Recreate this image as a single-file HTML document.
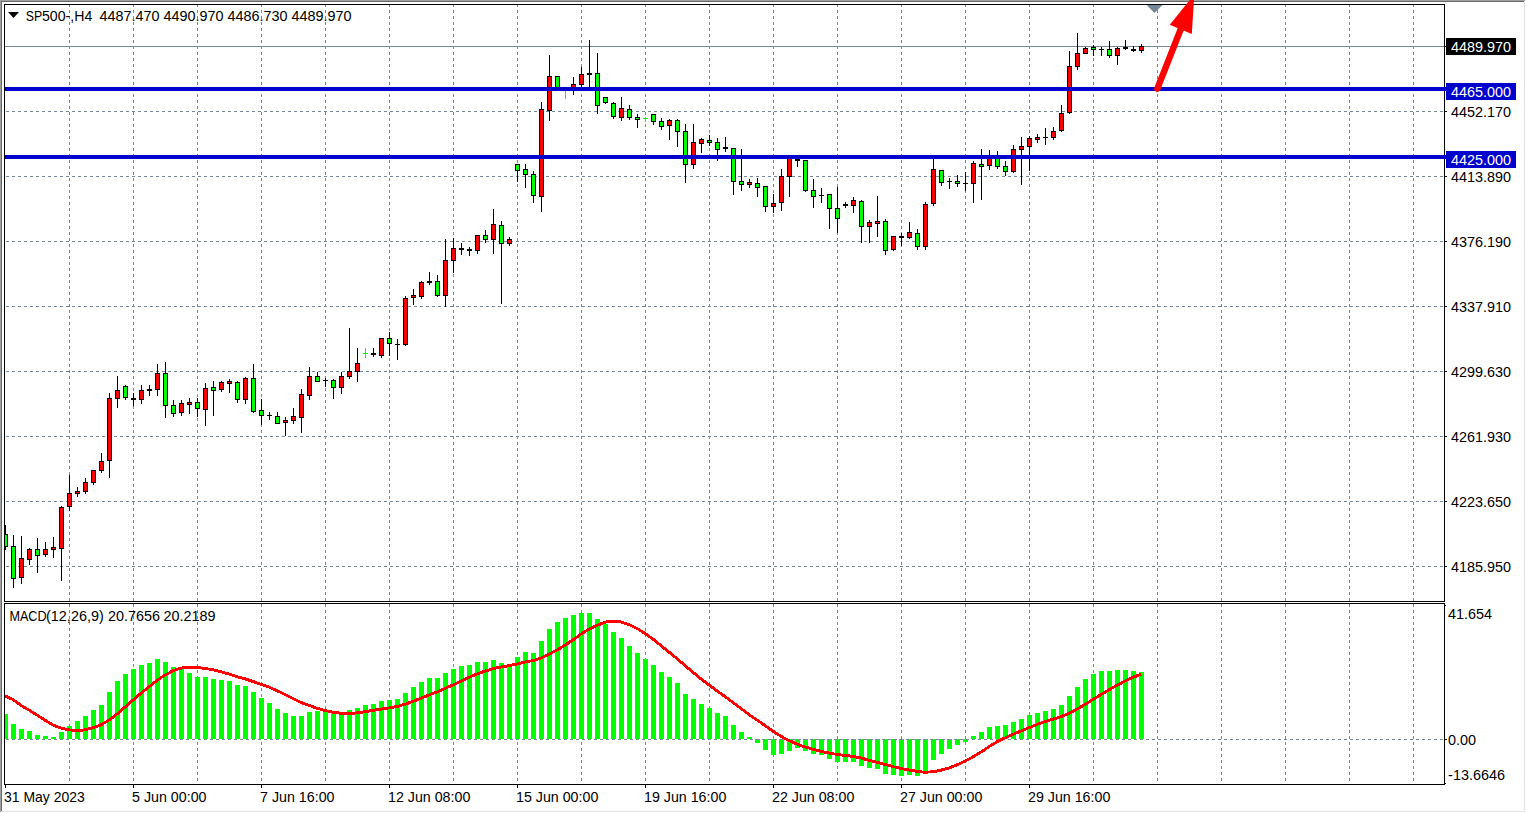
<!DOCTYPE html>
<html lang="en"><head><meta charset="utf-8"><title>SP500-,H4</title>
<style>html,body{margin:0;padding:0;background:#fff;overflow:hidden}svg{display:block}text{font-family:"Liberation Sans",Arial,sans-serif;font-size:14.4px;fill:#000}.w{fill:#fff}</style></head><body>
<svg width="1526" height="813" viewBox="0 0 1526 813">
<rect width="1526" height="813" fill="#fff"/>
<g shape-rendering="crispEdges">
<rect x="0" y="0" width="1525" height="1" fill="#a0a0a0"/>
<rect x="0" y="0" width="1" height="812" fill="#a0a0a0"/>
<rect x="1" y="1" width="1523" height="1" fill="#696969"/>
<rect x="1" y="1" width="1" height="810" fill="#696969"/>
<rect x="1524" y="1" width="1" height="811" fill="#e3e3e3"/>
<rect x="1" y="811" width="1524" height="1" fill="#e3e3e3"/>
<line x1="69.5" y1="4" x2="69.5" y2="601" stroke="#778899" stroke-width="1" stroke-dasharray="3 3"/>
<line x1="69.5" y1="604" x2="69.5" y2="784" stroke="#778899" stroke-width="1" stroke-dasharray="3 3"/>
<line x1="133.5" y1="4" x2="133.5" y2="601" stroke="#778899" stroke-width="1" stroke-dasharray="3 3"/>
<line x1="133.5" y1="604" x2="133.5" y2="784" stroke="#778899" stroke-width="1" stroke-dasharray="3 3"/>
<line x1="197.5" y1="4" x2="197.5" y2="601" stroke="#778899" stroke-width="1" stroke-dasharray="3 3"/>
<line x1="197.5" y1="604" x2="197.5" y2="784" stroke="#778899" stroke-width="1" stroke-dasharray="3 3"/>
<line x1="261.5" y1="4" x2="261.5" y2="601" stroke="#778899" stroke-width="1" stroke-dasharray="3 3"/>
<line x1="261.5" y1="604" x2="261.5" y2="784" stroke="#778899" stroke-width="1" stroke-dasharray="3 3"/>
<line x1="325.5" y1="4" x2="325.5" y2="601" stroke="#778899" stroke-width="1" stroke-dasharray="3 3"/>
<line x1="325.5" y1="604" x2="325.5" y2="784" stroke="#778899" stroke-width="1" stroke-dasharray="3 3"/>
<line x1="389.5" y1="4" x2="389.5" y2="601" stroke="#778899" stroke-width="1" stroke-dasharray="3 3"/>
<line x1="389.5" y1="604" x2="389.5" y2="784" stroke="#778899" stroke-width="1" stroke-dasharray="3 3"/>
<line x1="453.5" y1="4" x2="453.5" y2="601" stroke="#778899" stroke-width="1" stroke-dasharray="3 3"/>
<line x1="453.5" y1="604" x2="453.5" y2="784" stroke="#778899" stroke-width="1" stroke-dasharray="3 3"/>
<line x1="517.5" y1="4" x2="517.5" y2="601" stroke="#778899" stroke-width="1" stroke-dasharray="3 3"/>
<line x1="517.5" y1="604" x2="517.5" y2="784" stroke="#778899" stroke-width="1" stroke-dasharray="3 3"/>
<line x1="581.5" y1="4" x2="581.5" y2="601" stroke="#778899" stroke-width="1" stroke-dasharray="3 3"/>
<line x1="581.5" y1="604" x2="581.5" y2="784" stroke="#778899" stroke-width="1" stroke-dasharray="3 3"/>
<line x1="645.5" y1="4" x2="645.5" y2="601" stroke="#778899" stroke-width="1" stroke-dasharray="3 3"/>
<line x1="645.5" y1="604" x2="645.5" y2="784" stroke="#778899" stroke-width="1" stroke-dasharray="3 3"/>
<line x1="709.5" y1="4" x2="709.5" y2="601" stroke="#778899" stroke-width="1" stroke-dasharray="3 3"/>
<line x1="709.5" y1="604" x2="709.5" y2="784" stroke="#778899" stroke-width="1" stroke-dasharray="3 3"/>
<line x1="773.5" y1="4" x2="773.5" y2="601" stroke="#778899" stroke-width="1" stroke-dasharray="3 3"/>
<line x1="773.5" y1="604" x2="773.5" y2="784" stroke="#778899" stroke-width="1" stroke-dasharray="3 3"/>
<line x1="837.5" y1="4" x2="837.5" y2="601" stroke="#778899" stroke-width="1" stroke-dasharray="3 3"/>
<line x1="837.5" y1="604" x2="837.5" y2="784" stroke="#778899" stroke-width="1" stroke-dasharray="3 3"/>
<line x1="901.5" y1="4" x2="901.5" y2="601" stroke="#778899" stroke-width="1" stroke-dasharray="3 3"/>
<line x1="901.5" y1="604" x2="901.5" y2="784" stroke="#778899" stroke-width="1" stroke-dasharray="3 3"/>
<line x1="965.5" y1="4" x2="965.5" y2="601" stroke="#778899" stroke-width="1" stroke-dasharray="3 3"/>
<line x1="965.5" y1="604" x2="965.5" y2="784" stroke="#778899" stroke-width="1" stroke-dasharray="3 3"/>
<line x1="1029.5" y1="4" x2="1029.5" y2="601" stroke="#778899" stroke-width="1" stroke-dasharray="3 3"/>
<line x1="1029.5" y1="604" x2="1029.5" y2="784" stroke="#778899" stroke-width="1" stroke-dasharray="3 3"/>
<line x1="1093.5" y1="4" x2="1093.5" y2="601" stroke="#778899" stroke-width="1" stroke-dasharray="3 3"/>
<line x1="1093.5" y1="604" x2="1093.5" y2="784" stroke="#778899" stroke-width="1" stroke-dasharray="3 3"/>
<line x1="1157.5" y1="4" x2="1157.5" y2="601" stroke="#778899" stroke-width="1" stroke-dasharray="3 3"/>
<line x1="1157.5" y1="604" x2="1157.5" y2="784" stroke="#778899" stroke-width="1" stroke-dasharray="3 3"/>
<line x1="1221.5" y1="4" x2="1221.5" y2="601" stroke="#778899" stroke-width="1" stroke-dasharray="3 3"/>
<line x1="1221.5" y1="604" x2="1221.5" y2="784" stroke="#778899" stroke-width="1" stroke-dasharray="3 3"/>
<line x1="1285.5" y1="4" x2="1285.5" y2="601" stroke="#778899" stroke-width="1" stroke-dasharray="3 3"/>
<line x1="1285.5" y1="604" x2="1285.5" y2="784" stroke="#778899" stroke-width="1" stroke-dasharray="3 3"/>
<line x1="1349.5" y1="4" x2="1349.5" y2="601" stroke="#778899" stroke-width="1" stroke-dasharray="3 3"/>
<line x1="1349.5" y1="604" x2="1349.5" y2="784" stroke="#778899" stroke-width="1" stroke-dasharray="3 3"/>
<line x1="1413.5" y1="4" x2="1413.5" y2="601" stroke="#778899" stroke-width="1" stroke-dasharray="3 3"/>
<line x1="1413.5" y1="604" x2="1413.5" y2="784" stroke="#778899" stroke-width="1" stroke-dasharray="3 3"/>
<line x1="6" y1="111.5" x2="1444" y2="111.5" stroke="#778899" stroke-width="1" stroke-dasharray="3 3"/>
<line x1="6" y1="176.5" x2="1444" y2="176.5" stroke="#778899" stroke-width="1" stroke-dasharray="3 3"/>
<line x1="6" y1="241.5" x2="1444" y2="241.5" stroke="#778899" stroke-width="1" stroke-dasharray="3 3"/>
<line x1="6" y1="306.5" x2="1444" y2="306.5" stroke="#778899" stroke-width="1" stroke-dasharray="3 3"/>
<line x1="6" y1="371.5" x2="1444" y2="371.5" stroke="#778899" stroke-width="1" stroke-dasharray="3 3"/>
<line x1="6" y1="436.5" x2="1444" y2="436.5" stroke="#778899" stroke-width="1" stroke-dasharray="3 3"/>
<line x1="6" y1="501.5" x2="1444" y2="501.5" stroke="#778899" stroke-width="1" stroke-dasharray="3 3"/>
<line x1="6" y1="566.5" x2="1444" y2="566.5" stroke="#778899" stroke-width="1" stroke-dasharray="3 3"/>
<line x1="6" y1="739.5" x2="1444" y2="739.5" stroke="#778899" stroke-width="1" stroke-dasharray="3 3"/>
<rect x="5" y="46" width="1439" height="1" fill="#778899"/>
<rect x="5" y="525" width="1" height="25" fill="#000"/>
<rect x="4" y="534" width="4" height="13" fill="#000"/>
<rect x="4" y="535" width="3" height="11" fill="#00ff00"/>
<rect x="13" y="535" width="1" height="53" fill="#000"/>
<rect x="11" y="546" width="5" height="33" fill="#000"/>
<rect x="12" y="547" width="3" height="31" fill="#00ff00"/>
<rect x="21" y="536" width="1" height="48" fill="#000"/>
<rect x="19" y="558" width="5" height="20" fill="#000"/>
<rect x="20" y="559" width="3" height="18" fill="#ff0000"/>
<rect x="29" y="548" width="1" height="17" fill="#000"/>
<rect x="27" y="549" width="5" height="11" fill="#000"/>
<rect x="28" y="550" width="3" height="9" fill="#ff0000"/>
<rect x="37" y="538" width="1" height="35" fill="#000"/>
<rect x="35" y="549" width="5" height="7" fill="#000"/>
<rect x="36" y="550" width="3" height="5" fill="#00ff00"/>
<rect x="45" y="542" width="1" height="15" fill="#000"/>
<rect x="43" y="549" width="5" height="6" fill="#000"/>
<rect x="44" y="550" width="3" height="4" fill="#ff0000"/>
<rect x="53" y="537" width="1" height="21" fill="#000"/>
<rect x="51" y="547" width="5" height="3" fill="#000"/>
<rect x="52" y="548" width="3" height="1" fill="#ff0000"/>
<rect x="61" y="506" width="1" height="75" fill="#000"/>
<rect x="59" y="507" width="5" height="42" fill="#000"/>
<rect x="60" y="508" width="3" height="40" fill="#ff0000"/>
<rect x="69" y="475" width="1" height="36" fill="#000"/>
<rect x="67" y="493" width="5" height="14" fill="#000"/>
<rect x="68" y="494" width="3" height="12" fill="#ff0000"/>
<rect x="77" y="487" width="1" height="10" fill="#000"/>
<rect x="75" y="491" width="5" height="3" fill="#000"/>
<rect x="76" y="492" width="3" height="1" fill="#ff0000"/>
<rect x="85" y="478" width="1" height="16" fill="#000"/>
<rect x="83" y="482" width="5" height="10" fill="#000"/>
<rect x="84" y="483" width="3" height="8" fill="#ff0000"/>
<rect x="93" y="470" width="1" height="15" fill="#000"/>
<rect x="91" y="470" width="5" height="13" fill="#000"/>
<rect x="92" y="471" width="3" height="11" fill="#ff0000"/>
<rect x="101" y="453" width="1" height="20" fill="#000"/>
<rect x="99" y="461" width="5" height="10" fill="#000"/>
<rect x="100" y="462" width="3" height="8" fill="#ff0000"/>
<rect x="109" y="393" width="1" height="85" fill="#000"/>
<rect x="107" y="398" width="5" height="63" fill="#000"/>
<rect x="108" y="399" width="3" height="61" fill="#ff0000"/>
<rect x="117" y="376" width="1" height="32" fill="#000"/>
<rect x="115" y="390" width="5" height="9" fill="#000"/>
<rect x="116" y="391" width="3" height="7" fill="#ff0000"/>
<rect x="125" y="385" width="1" height="15" fill="#000"/>
<rect x="123" y="386" width="5" height="12" fill="#000"/>
<rect x="124" y="387" width="3" height="10" fill="#00ff00"/>
<rect x="133" y="393" width="1" height="13" fill="#000"/>
<rect x="131" y="398" width="5" height="2" fill="#000"/>
<rect x="141" y="385" width="1" height="19" fill="#000"/>
<rect x="139" y="390" width="5" height="10" fill="#000"/>
<rect x="140" y="391" width="3" height="8" fill="#ff0000"/>
<rect x="149" y="385" width="1" height="11" fill="#000"/>
<rect x="147" y="389" width="5" height="2" fill="#000"/>
<rect x="157" y="364" width="1" height="32" fill="#000"/>
<rect x="155" y="373" width="5" height="17" fill="#000"/>
<rect x="156" y="374" width="3" height="15" fill="#ff0000"/>
<rect x="165" y="362" width="1" height="56" fill="#000"/>
<rect x="163" y="373" width="5" height="33" fill="#000"/>
<rect x="164" y="374" width="3" height="31" fill="#00ff00"/>
<rect x="173" y="400" width="1" height="17" fill="#000"/>
<rect x="171" y="405" width="5" height="9" fill="#000"/>
<rect x="172" y="406" width="3" height="7" fill="#00ff00"/>
<rect x="181" y="400" width="1" height="16" fill="#000"/>
<rect x="179" y="403" width="5" height="10" fill="#000"/>
<rect x="180" y="404" width="3" height="8" fill="#ff0000"/>
<rect x="189" y="398" width="1" height="16" fill="#000"/>
<rect x="187" y="402" width="5" height="3" fill="#000"/>
<rect x="188" y="403" width="3" height="1" fill="#ff0000"/>
<rect x="197" y="398" width="1" height="19" fill="#000"/>
<rect x="195" y="402" width="5" height="7" fill="#000"/>
<rect x="196" y="403" width="3" height="5" fill="#00ff00"/>
<rect x="205" y="383" width="1" height="43" fill="#000"/>
<rect x="203" y="388" width="5" height="22" fill="#000"/>
<rect x="204" y="389" width="3" height="20" fill="#ff0000"/>
<rect x="213" y="381" width="1" height="35" fill="#000"/>
<rect x="211" y="387" width="5" height="4" fill="#000"/>
<rect x="212" y="388" width="3" height="2" fill="#00ff00"/>
<rect x="221" y="381" width="1" height="11" fill="#000"/>
<rect x="219" y="382" width="5" height="8" fill="#000"/>
<rect x="220" y="383" width="3" height="6" fill="#ff0000"/>
<rect x="229" y="379" width="1" height="14" fill="#000"/>
<rect x="227" y="381" width="5" height="3" fill="#000"/>
<rect x="228" y="382" width="3" height="1" fill="#ff0000"/>
<rect x="237" y="381" width="1" height="22" fill="#000"/>
<rect x="235" y="382" width="5" height="18" fill="#000"/>
<rect x="236" y="383" width="3" height="16" fill="#00ff00"/>
<rect x="245" y="377" width="1" height="27" fill="#000"/>
<rect x="243" y="378" width="5" height="22" fill="#000"/>
<rect x="244" y="379" width="3" height="20" fill="#ff0000"/>
<rect x="253" y="364" width="1" height="49" fill="#000"/>
<rect x="251" y="378" width="5" height="34" fill="#000"/>
<rect x="252" y="379" width="3" height="32" fill="#00ff00"/>
<rect x="261" y="399" width="1" height="26" fill="#000"/>
<rect x="259" y="410" width="5" height="6" fill="#000"/>
<rect x="260" y="411" width="3" height="4" fill="#00ff00"/>
<rect x="269" y="412" width="1" height="8" fill="#000"/>
<rect x="267" y="415" width="5" height="1" fill="#000"/>
<rect x="277" y="412" width="1" height="12" fill="#000"/>
<rect x="275" y="416" width="5" height="8" fill="#000"/>
<rect x="276" y="417" width="3" height="6" fill="#00ff00"/>
<rect x="285" y="417" width="1" height="19" fill="#000"/>
<rect x="283" y="420" width="5" height="3" fill="#000"/>
<rect x="284" y="421" width="3" height="1" fill="#ff0000"/>
<rect x="293" y="408" width="1" height="16" fill="#000"/>
<rect x="291" y="416" width="5" height="5" fill="#000"/>
<rect x="292" y="417" width="3" height="3" fill="#ff0000"/>
<rect x="301" y="389" width="1" height="44" fill="#000"/>
<rect x="299" y="394" width="5" height="24" fill="#000"/>
<rect x="300" y="395" width="3" height="22" fill="#ff0000"/>
<rect x="309" y="367" width="1" height="33" fill="#000"/>
<rect x="307" y="376" width="5" height="20" fill="#000"/>
<rect x="308" y="377" width="3" height="18" fill="#ff0000"/>
<rect x="317" y="372" width="1" height="10" fill="#000"/>
<rect x="315" y="376" width="5" height="6" fill="#000"/>
<rect x="316" y="377" width="3" height="4" fill="#00ff00"/>
<rect x="325" y="378" width="1" height="9" fill="#000"/>
<rect x="323" y="380" width="5" height="1" fill="#000"/>
<rect x="333" y="379" width="1" height="20" fill="#000"/>
<rect x="331" y="380" width="5" height="8" fill="#000"/>
<rect x="332" y="381" width="3" height="6" fill="#00ff00"/>
<rect x="341" y="372" width="1" height="22" fill="#000"/>
<rect x="339" y="376" width="5" height="12" fill="#000"/>
<rect x="340" y="377" width="3" height="10" fill="#ff0000"/>
<rect x="349" y="328" width="1" height="51" fill="#000"/>
<rect x="347" y="371" width="5" height="6" fill="#000"/>
<rect x="348" y="372" width="3" height="4" fill="#ff0000"/>
<rect x="357" y="348" width="1" height="34" fill="#000"/>
<rect x="355" y="363" width="5" height="9" fill="#000"/>
<rect x="356" y="364" width="3" height="7" fill="#ff0000"/>
<rect x="365" y="348" width="1" height="10" fill="#00ff00"/>
<rect x="363" y="353" width="5" height="1" fill="#00ff00"/>
<rect x="373" y="348" width="1" height="9" fill="#000"/>
<rect x="371" y="353" width="5" height="2" fill="#000"/>
<rect x="381" y="338" width="1" height="20" fill="#000"/>
<rect x="379" y="338" width="5" height="18" fill="#000"/>
<rect x="380" y="339" width="3" height="16" fill="#ff0000"/>
<rect x="389" y="332" width="1" height="24" fill="#000"/>
<rect x="387" y="338" width="5" height="6" fill="#000"/>
<rect x="388" y="339" width="3" height="4" fill="#00ff00"/>
<rect x="397" y="339" width="1" height="21" fill="#000"/>
<rect x="395" y="344" width="5" height="1" fill="#000"/>
<rect x="405" y="296" width="1" height="50" fill="#000"/>
<rect x="403" y="298" width="5" height="47" fill="#000"/>
<rect x="404" y="299" width="3" height="45" fill="#ff0000"/>
<rect x="413" y="289" width="1" height="16" fill="#000"/>
<rect x="411" y="295" width="5" height="3" fill="#000"/>
<rect x="412" y="296" width="3" height="1" fill="#ff0000"/>
<rect x="421" y="281" width="1" height="18" fill="#000"/>
<rect x="419" y="282" width="5" height="15" fill="#000"/>
<rect x="420" y="283" width="3" height="13" fill="#ff0000"/>
<rect x="429" y="272" width="1" height="13" fill="#000"/>
<rect x="427" y="281" width="5" height="2" fill="#000"/>
<rect x="437" y="275" width="1" height="22" fill="#000"/>
<rect x="435" y="281" width="5" height="15" fill="#000"/>
<rect x="436" y="282" width="3" height="13" fill="#00ff00"/>
<rect x="445" y="239" width="1" height="68" fill="#000"/>
<rect x="443" y="260" width="5" height="36" fill="#000"/>
<rect x="444" y="261" width="3" height="34" fill="#ff0000"/>
<rect x="453" y="238" width="1" height="35" fill="#000"/>
<rect x="451" y="248" width="5" height="13" fill="#000"/>
<rect x="452" y="249" width="3" height="11" fill="#ff0000"/>
<rect x="461" y="243" width="1" height="12" fill="#000"/>
<rect x="459" y="248" width="5" height="2" fill="#000"/>
<rect x="469" y="247" width="1" height="9" fill="#000"/>
<rect x="467" y="249" width="5" height="2" fill="#000"/>
<rect x="477" y="235" width="1" height="19" fill="#000"/>
<rect x="475" y="235" width="5" height="16" fill="#000"/>
<rect x="476" y="236" width="3" height="14" fill="#ff0000"/>
<rect x="485" y="230" width="1" height="13" fill="#000"/>
<rect x="483" y="235" width="5" height="5" fill="#000"/>
<rect x="484" y="236" width="3" height="3" fill="#00ff00"/>
<rect x="493" y="209" width="1" height="45" fill="#000"/>
<rect x="491" y="224" width="5" height="16" fill="#000"/>
<rect x="492" y="225" width="3" height="14" fill="#ff0000"/>
<rect x="501" y="221" width="1" height="83" fill="#000"/>
<rect x="499" y="225" width="5" height="19" fill="#000"/>
<rect x="500" y="226" width="3" height="17" fill="#00ff00"/>
<rect x="509" y="237" width="1" height="9" fill="#000"/>
<rect x="507" y="239" width="5" height="5" fill="#000"/>
<rect x="508" y="240" width="3" height="3" fill="#ff0000"/>
<rect x="517" y="164" width="1" height="18" fill="#000"/>
<rect x="515" y="164" width="5" height="7" fill="#000"/>
<rect x="516" y="165" width="3" height="5" fill="#00ff00"/>
<rect x="525" y="164" width="1" height="24" fill="#000"/>
<rect x="523" y="169" width="5" height="6" fill="#000"/>
<rect x="524" y="170" width="3" height="4" fill="#00ff00"/>
<rect x="533" y="171" width="1" height="32" fill="#000"/>
<rect x="531" y="174" width="5" height="22" fill="#000"/>
<rect x="532" y="175" width="3" height="20" fill="#00ff00"/>
<rect x="541" y="102" width="1" height="110" fill="#000"/>
<rect x="539" y="109" width="5" height="88" fill="#000"/>
<rect x="540" y="110" width="3" height="86" fill="#ff0000"/>
<rect x="549" y="55" width="1" height="66" fill="#000"/>
<rect x="547" y="76" width="5" height="35" fill="#000"/>
<rect x="548" y="77" width="3" height="33" fill="#ff0000"/>
<rect x="557" y="76" width="1" height="13" fill="#000"/>
<rect x="555" y="76" width="5" height="13" fill="#000"/>
<rect x="556" y="77" width="3" height="11" fill="#00ff00"/>
<rect x="565" y="87" width="1" height="12" fill="#00ff00"/>
<rect x="563" y="88" width="5" height="1" fill="#00ff00"/>
<rect x="573" y="77" width="1" height="18" fill="#000"/>
<rect x="571" y="84" width="5" height="5" fill="#000"/>
<rect x="572" y="85" width="3" height="3" fill="#ff0000"/>
<rect x="581" y="67" width="1" height="22" fill="#000"/>
<rect x="579" y="74" width="5" height="11" fill="#000"/>
<rect x="580" y="75" width="3" height="9" fill="#ff0000"/>
<rect x="589" y="40" width="1" height="49" fill="#000"/>
<rect x="587" y="73" width="5" height="2" fill="#000"/>
<rect x="597" y="53" width="1" height="61" fill="#000"/>
<rect x="595" y="73" width="5" height="33" fill="#000"/>
<rect x="596" y="74" width="3" height="31" fill="#00ff00"/>
<rect x="605" y="97" width="1" height="7" fill="#000"/>
<rect x="603" y="97" width="5" height="6" fill="#000"/>
<rect x="604" y="98" width="3" height="4" fill="#00ff00"/>
<rect x="613" y="102" width="1" height="17" fill="#000"/>
<rect x="611" y="103" width="5" height="14" fill="#000"/>
<rect x="612" y="104" width="3" height="12" fill="#00ff00"/>
<rect x="621" y="97" width="1" height="24" fill="#000"/>
<rect x="619" y="108" width="5" height="10" fill="#000"/>
<rect x="620" y="109" width="3" height="8" fill="#ff0000"/>
<rect x="629" y="105" width="1" height="15" fill="#000"/>
<rect x="627" y="109" width="5" height="9" fill="#000"/>
<rect x="628" y="110" width="3" height="7" fill="#00ff00"/>
<rect x="637" y="114" width="1" height="14" fill="#000"/>
<rect x="635" y="117" width="5" height="3" fill="#000"/>
<rect x="636" y="118" width="3" height="1" fill="#00ff00"/>
<rect x="645" y="117" width="1" height="5" fill="#00ff00"/>
<rect x="643" y="118" width="5" height="1" fill="#00ff00"/>
<rect x="653" y="114" width="1" height="11" fill="#000"/>
<rect x="651" y="114" width="5" height="8" fill="#000"/>
<rect x="652" y="115" width="3" height="6" fill="#00ff00"/>
<rect x="661" y="118" width="1" height="12" fill="#000"/>
<rect x="659" y="121" width="5" height="6" fill="#000"/>
<rect x="660" y="122" width="3" height="4" fill="#00ff00"/>
<rect x="669" y="119" width="1" height="21" fill="#000"/>
<rect x="667" y="120" width="5" height="6" fill="#000"/>
<rect x="668" y="121" width="3" height="4" fill="#ff0000"/>
<rect x="677" y="119" width="1" height="28" fill="#000"/>
<rect x="675" y="120" width="5" height="12" fill="#000"/>
<rect x="676" y="121" width="3" height="10" fill="#00ff00"/>
<rect x="685" y="124" width="1" height="59" fill="#000"/>
<rect x="683" y="131" width="5" height="34" fill="#000"/>
<rect x="684" y="132" width="3" height="32" fill="#00ff00"/>
<rect x="693" y="124" width="1" height="45" fill="#000"/>
<rect x="691" y="142" width="5" height="23" fill="#000"/>
<rect x="692" y="143" width="3" height="21" fill="#ff0000"/>
<rect x="701" y="138" width="1" height="15" fill="#000"/>
<rect x="699" y="139" width="5" height="5" fill="#000"/>
<rect x="700" y="140" width="3" height="3" fill="#ff0000"/>
<rect x="709" y="135" width="1" height="11" fill="#000"/>
<rect x="707" y="140" width="5" height="3" fill="#000"/>
<rect x="708" y="141" width="3" height="1" fill="#00ff00"/>
<rect x="717" y="138" width="1" height="23" fill="#000"/>
<rect x="715" y="142" width="5" height="8" fill="#000"/>
<rect x="716" y="143" width="3" height="6" fill="#00ff00"/>
<rect x="725" y="137" width="1" height="15" fill="#000"/>
<rect x="723" y="147" width="5" height="2" fill="#000"/>
<rect x="733" y="148" width="1" height="47" fill="#000"/>
<rect x="731" y="148" width="5" height="34" fill="#000"/>
<rect x="732" y="149" width="3" height="32" fill="#00ff00"/>
<rect x="741" y="149" width="1" height="42" fill="#000"/>
<rect x="739" y="181" width="5" height="4" fill="#000"/>
<rect x="740" y="182" width="3" height="2" fill="#00ff00"/>
<rect x="749" y="179" width="1" height="9" fill="#000"/>
<rect x="747" y="182" width="5" height="3" fill="#000"/>
<rect x="748" y="183" width="3" height="1" fill="#ff0000"/>
<rect x="757" y="178" width="1" height="19" fill="#000"/>
<rect x="755" y="183" width="5" height="5" fill="#000"/>
<rect x="756" y="184" width="3" height="3" fill="#00ff00"/>
<rect x="765" y="186" width="1" height="26" fill="#000"/>
<rect x="763" y="186" width="5" height="21" fill="#000"/>
<rect x="764" y="187" width="3" height="19" fill="#00ff00"/>
<rect x="773" y="194" width="1" height="19" fill="#000"/>
<rect x="771" y="203" width="5" height="4" fill="#000"/>
<rect x="772" y="204" width="3" height="2" fill="#ff0000"/>
<rect x="781" y="169" width="1" height="42" fill="#000"/>
<rect x="779" y="176" width="5" height="27" fill="#000"/>
<rect x="780" y="177" width="3" height="25" fill="#ff0000"/>
<rect x="789" y="157" width="1" height="40" fill="#000"/>
<rect x="787" y="157" width="5" height="20" fill="#000"/>
<rect x="788" y="158" width="3" height="18" fill="#ff0000"/>
<rect x="797" y="158" width="1" height="9" fill="#000"/>
<rect x="795" y="159" width="5" height="2" fill="#000"/>
<rect x="805" y="160" width="1" height="32" fill="#000"/>
<rect x="803" y="160" width="5" height="31" fill="#000"/>
<rect x="804" y="161" width="3" height="29" fill="#00ff00"/>
<rect x="813" y="179" width="1" height="29" fill="#000"/>
<rect x="811" y="190" width="5" height="7" fill="#000"/>
<rect x="812" y="191" width="3" height="5" fill="#00ff00"/>
<rect x="821" y="188" width="1" height="15" fill="#000"/>
<rect x="819" y="195" width="5" height="1" fill="#000"/>
<rect x="829" y="194" width="1" height="35" fill="#000"/>
<rect x="827" y="194" width="5" height="15" fill="#000"/>
<rect x="828" y="195" width="3" height="13" fill="#00ff00"/>
<rect x="837" y="187" width="1" height="46" fill="#000"/>
<rect x="835" y="208" width="5" height="11" fill="#000"/>
<rect x="836" y="209" width="3" height="9" fill="#00ff00"/>
<rect x="845" y="202" width="1" height="6" fill="#000"/>
<rect x="843" y="204" width="5" height="2" fill="#000"/>
<rect x="853" y="197" width="1" height="16" fill="#000"/>
<rect x="851" y="200" width="5" height="6" fill="#000"/>
<rect x="852" y="201" width="3" height="4" fill="#ff0000"/>
<rect x="861" y="200" width="1" height="43" fill="#000"/>
<rect x="859" y="201" width="5" height="26" fill="#000"/>
<rect x="860" y="202" width="3" height="24" fill="#00ff00"/>
<rect x="869" y="220" width="1" height="23" fill="#000"/>
<rect x="867" y="222" width="5" height="5" fill="#000"/>
<rect x="868" y="223" width="3" height="3" fill="#ff0000"/>
<rect x="877" y="196" width="1" height="41" fill="#000"/>
<rect x="875" y="221" width="5" height="3" fill="#000"/>
<rect x="876" y="222" width="3" height="1" fill="#ff0000"/>
<rect x="885" y="219" width="1" height="36" fill="#000"/>
<rect x="883" y="221" width="5" height="30" fill="#000"/>
<rect x="884" y="222" width="3" height="28" fill="#00ff00"/>
<rect x="893" y="236" width="1" height="15" fill="#000"/>
<rect x="891" y="236" width="5" height="14" fill="#000"/>
<rect x="892" y="237" width="3" height="12" fill="#ff0000"/>
<rect x="901" y="233" width="1" height="13" fill="#000"/>
<rect x="899" y="236" width="5" height="2" fill="#000"/>
<rect x="909" y="222" width="1" height="17" fill="#000"/>
<rect x="907" y="232" width="5" height="6" fill="#000"/>
<rect x="908" y="233" width="3" height="4" fill="#ff0000"/>
<rect x="917" y="229" width="1" height="21" fill="#000"/>
<rect x="915" y="233" width="5" height="14" fill="#000"/>
<rect x="916" y="234" width="3" height="12" fill="#00ff00"/>
<rect x="925" y="202" width="1" height="48" fill="#000"/>
<rect x="923" y="204" width="5" height="43" fill="#000"/>
<rect x="924" y="205" width="3" height="41" fill="#ff0000"/>
<rect x="933" y="157" width="1" height="49" fill="#000"/>
<rect x="931" y="169" width="5" height="35" fill="#000"/>
<rect x="932" y="170" width="3" height="33" fill="#ff0000"/>
<rect x="941" y="170" width="1" height="16" fill="#000"/>
<rect x="939" y="170" width="5" height="13" fill="#000"/>
<rect x="940" y="171" width="3" height="11" fill="#00ff00"/>
<rect x="949" y="178" width="1" height="11" fill="#000"/>
<rect x="947" y="181" width="5" height="1" fill="#000"/>
<rect x="957" y="175" width="1" height="12" fill="#000"/>
<rect x="955" y="181" width="5" height="3" fill="#000"/>
<rect x="956" y="182" width="3" height="1" fill="#00ff00"/>
<rect x="965" y="172" width="1" height="19" fill="#000"/>
<rect x="963" y="183" width="5" height="1" fill="#000"/>
<rect x="973" y="161" width="1" height="42" fill="#000"/>
<rect x="971" y="163" width="5" height="21" fill="#000"/>
<rect x="972" y="164" width="3" height="19" fill="#ff0000"/>
<rect x="981" y="149" width="1" height="51" fill="#000"/>
<rect x="979" y="164" width="5" height="3" fill="#000"/>
<rect x="980" y="165" width="3" height="1" fill="#00ff00"/>
<rect x="989" y="150" width="1" height="20" fill="#000"/>
<rect x="987" y="157" width="5" height="9" fill="#000"/>
<rect x="988" y="158" width="3" height="7" fill="#ff0000"/>
<rect x="997" y="151" width="1" height="18" fill="#000"/>
<rect x="995" y="157" width="5" height="10" fill="#000"/>
<rect x="996" y="158" width="3" height="8" fill="#00ff00"/>
<rect x="1005" y="161" width="1" height="15" fill="#000"/>
<rect x="1003" y="166" width="5" height="6" fill="#000"/>
<rect x="1004" y="167" width="3" height="4" fill="#00ff00"/>
<rect x="1013" y="145" width="1" height="28" fill="#000"/>
<rect x="1011" y="149" width="5" height="23" fill="#000"/>
<rect x="1012" y="150" width="3" height="21" fill="#ff0000"/>
<rect x="1021" y="137" width="1" height="48" fill="#000"/>
<rect x="1019" y="146" width="5" height="4" fill="#000"/>
<rect x="1020" y="147" width="3" height="2" fill="#ff0000"/>
<rect x="1029" y="136" width="1" height="35" fill="#000"/>
<rect x="1027" y="138" width="5" height="9" fill="#000"/>
<rect x="1028" y="139" width="3" height="7" fill="#ff0000"/>
<rect x="1037" y="134" width="1" height="9" fill="#000"/>
<rect x="1035" y="137" width="5" height="3" fill="#000"/>
<rect x="1036" y="138" width="3" height="1" fill="#ff0000"/>
<rect x="1045" y="128" width="1" height="17" fill="#000"/>
<rect x="1043" y="137" width="5" height="1" fill="#000"/>
<rect x="1053" y="127" width="1" height="13" fill="#000"/>
<rect x="1051" y="131" width="5" height="7" fill="#000"/>
<rect x="1052" y="132" width="3" height="5" fill="#ff0000"/>
<rect x="1061" y="105" width="1" height="27" fill="#000"/>
<rect x="1059" y="113" width="5" height="18" fill="#000"/>
<rect x="1060" y="114" width="3" height="16" fill="#ff0000"/>
<rect x="1069" y="51" width="1" height="63" fill="#000"/>
<rect x="1067" y="66" width="5" height="47" fill="#000"/>
<rect x="1068" y="67" width="3" height="45" fill="#ff0000"/>
<rect x="1077" y="33" width="1" height="37" fill="#000"/>
<rect x="1075" y="53" width="5" height="14" fill="#000"/>
<rect x="1076" y="54" width="3" height="12" fill="#ff0000"/>
<rect x="1085" y="47" width="1" height="7" fill="#000"/>
<rect x="1083" y="48" width="5" height="6" fill="#000"/>
<rect x="1084" y="49" width="3" height="4" fill="#ff0000"/>
<rect x="1093" y="45" width="1" height="11" fill="#000"/>
<rect x="1091" y="47" width="5" height="3" fill="#000"/>
<rect x="1092" y="48" width="3" height="1" fill="#00ff00"/>
<rect x="1101" y="47" width="1" height="9" fill="#000"/>
<rect x="1099" y="49" width="5" height="1" fill="#000"/>
<rect x="1109" y="41" width="1" height="17" fill="#000"/>
<rect x="1107" y="49" width="5" height="7" fill="#000"/>
<rect x="1108" y="50" width="3" height="5" fill="#00ff00"/>
<rect x="1117" y="47" width="1" height="18" fill="#000"/>
<rect x="1115" y="48" width="5" height="8" fill="#000"/>
<rect x="1116" y="49" width="3" height="6" fill="#ff0000"/>
<rect x="1125" y="40" width="1" height="10" fill="#000"/>
<rect x="1123" y="47" width="5" height="2" fill="#000"/>
<rect x="1133" y="46" width="1" height="6" fill="#000"/>
<rect x="1131" y="49" width="5" height="2" fill="#000"/>
<rect x="1141" y="44" width="1" height="9" fill="#000"/>
<rect x="1139" y="46" width="5" height="5" fill="#000"/>
<rect x="1140" y="47" width="3" height="3" fill="#ff0000"/>
<rect x="4" y="714" width="4" height="25" fill="#00ff00"/>
<rect x="11" y="724" width="5" height="15" fill="#00ff00"/>
<rect x="19" y="729" width="5" height="10" fill="#00ff00"/>
<rect x="27" y="731" width="5" height="8" fill="#00ff00"/>
<rect x="35" y="735" width="5" height="4" fill="#00ff00"/>
<rect x="43" y="736" width="5" height="3" fill="#00ff00"/>
<rect x="51" y="737" width="5" height="2" fill="#00ff00"/>
<rect x="59" y="732" width="5" height="7" fill="#00ff00"/>
<rect x="67" y="726" width="5" height="13" fill="#00ff00"/>
<rect x="75" y="721" width="5" height="18" fill="#00ff00"/>
<rect x="83" y="716" width="5" height="23" fill="#00ff00"/>
<rect x="91" y="710" width="5" height="29" fill="#00ff00"/>
<rect x="99" y="705" width="5" height="34" fill="#00ff00"/>
<rect x="107" y="692" width="5" height="47" fill="#00ff00"/>
<rect x="115" y="681" width="5" height="58" fill="#00ff00"/>
<rect x="123" y="674" width="5" height="65" fill="#00ff00"/>
<rect x="131" y="669" width="5" height="70" fill="#00ff00"/>
<rect x="139" y="665" width="5" height="74" fill="#00ff00"/>
<rect x="147" y="663" width="5" height="76" fill="#00ff00"/>
<rect x="155" y="659" width="5" height="80" fill="#00ff00"/>
<rect x="163" y="662" width="5" height="77" fill="#00ff00"/>
<rect x="171" y="667" width="5" height="72" fill="#00ff00"/>
<rect x="179" y="668" width="5" height="71" fill="#00ff00"/>
<rect x="187" y="673" width="5" height="66" fill="#00ff00"/>
<rect x="195" y="677" width="5" height="62" fill="#00ff00"/>
<rect x="203" y="677" width="5" height="62" fill="#00ff00"/>
<rect x="211" y="679" width="5" height="60" fill="#00ff00"/>
<rect x="219" y="680" width="5" height="59" fill="#00ff00"/>
<rect x="227" y="681" width="5" height="58" fill="#00ff00"/>
<rect x="235" y="685" width="5" height="54" fill="#00ff00"/>
<rect x="243" y="686" width="5" height="53" fill="#00ff00"/>
<rect x="251" y="692" width="5" height="47" fill="#00ff00"/>
<rect x="259" y="698" width="5" height="41" fill="#00ff00"/>
<rect x="267" y="703" width="5" height="36" fill="#00ff00"/>
<rect x="275" y="709" width="5" height="30" fill="#00ff00"/>
<rect x="283" y="713" width="5" height="26" fill="#00ff00"/>
<rect x="291" y="716" width="5" height="23" fill="#00ff00"/>
<rect x="299" y="716" width="5" height="23" fill="#00ff00"/>
<rect x="307" y="712" width="5" height="27" fill="#00ff00"/>
<rect x="315" y="711" width="5" height="28" fill="#00ff00"/>
<rect x="323" y="712" width="5" height="27" fill="#00ff00"/>
<rect x="331" y="713" width="5" height="26" fill="#00ff00"/>
<rect x="339" y="713" width="5" height="26" fill="#00ff00"/>
<rect x="347" y="710" width="5" height="29" fill="#00ff00"/>
<rect x="355" y="708" width="5" height="31" fill="#00ff00"/>
<rect x="363" y="705" width="5" height="34" fill="#00ff00"/>
<rect x="371" y="704" width="5" height="35" fill="#00ff00"/>
<rect x="379" y="701" width="5" height="38" fill="#00ff00"/>
<rect x="387" y="700" width="5" height="39" fill="#00ff00"/>
<rect x="395" y="699" width="5" height="40" fill="#00ff00"/>
<rect x="403" y="693" width="5" height="46" fill="#00ff00"/>
<rect x="411" y="687" width="5" height="52" fill="#00ff00"/>
<rect x="419" y="682" width="5" height="57" fill="#00ff00"/>
<rect x="427" y="678" width="5" height="61" fill="#00ff00"/>
<rect x="435" y="678" width="5" height="61" fill="#00ff00"/>
<rect x="443" y="673" width="5" height="66" fill="#00ff00"/>
<rect x="451" y="669" width="5" height="70" fill="#00ff00"/>
<rect x="459" y="666" width="5" height="73" fill="#00ff00"/>
<rect x="467" y="665" width="5" height="74" fill="#00ff00"/>
<rect x="475" y="662" width="5" height="77" fill="#00ff00"/>
<rect x="483" y="662" width="5" height="77" fill="#00ff00"/>
<rect x="491" y="660" width="5" height="79" fill="#00ff00"/>
<rect x="499" y="663" width="5" height="76" fill="#00ff00"/>
<rect x="507" y="666" width="5" height="73" fill="#00ff00"/>
<rect x="515" y="657" width="5" height="82" fill="#00ff00"/>
<rect x="523" y="652" width="5" height="87" fill="#00ff00"/>
<rect x="531" y="653" width="5" height="86" fill="#00ff00"/>
<rect x="539" y="641" width="5" height="98" fill="#00ff00"/>
<rect x="547" y="629" width="5" height="110" fill="#00ff00"/>
<rect x="555" y="622" width="5" height="117" fill="#00ff00"/>
<rect x="563" y="618" width="5" height="121" fill="#00ff00"/>
<rect x="571" y="615" width="5" height="124" fill="#00ff00"/>
<rect x="579" y="613" width="5" height="126" fill="#00ff00"/>
<rect x="587" y="613" width="5" height="126" fill="#00ff00"/>
<rect x="595" y="619" width="5" height="120" fill="#00ff00"/>
<rect x="603" y="624" width="5" height="115" fill="#00ff00"/>
<rect x="611" y="632" width="5" height="107" fill="#00ff00"/>
<rect x="619" y="638" width="5" height="101" fill="#00ff00"/>
<rect x="627" y="646" width="5" height="93" fill="#00ff00"/>
<rect x="635" y="653" width="5" height="86" fill="#00ff00"/>
<rect x="643" y="659" width="5" height="80" fill="#00ff00"/>
<rect x="651" y="665" width="5" height="74" fill="#00ff00"/>
<rect x="659" y="672" width="5" height="67" fill="#00ff00"/>
<rect x="667" y="677" width="5" height="62" fill="#00ff00"/>
<rect x="675" y="683" width="5" height="56" fill="#00ff00"/>
<rect x="683" y="694" width="5" height="45" fill="#00ff00"/>
<rect x="691" y="699" width="5" height="40" fill="#00ff00"/>
<rect x="699" y="704" width="5" height="35" fill="#00ff00"/>
<rect x="707" y="708" width="5" height="31" fill="#00ff00"/>
<rect x="715" y="713" width="5" height="26" fill="#00ff00"/>
<rect x="723" y="716" width="5" height="23" fill="#00ff00"/>
<rect x="731" y="725" width="5" height="14" fill="#00ff00"/>
<rect x="739" y="732" width="5" height="7" fill="#00ff00"/>
<rect x="747" y="737" width="5" height="2" fill="#00ff00"/>
<rect x="755" y="739" width="5" height="4" fill="#00ff00"/>
<rect x="763" y="739" width="5" height="11" fill="#00ff00"/>
<rect x="771" y="739" width="5" height="16" fill="#00ff00"/>
<rect x="779" y="739" width="5" height="15" fill="#00ff00"/>
<rect x="787" y="739" width="5" height="12" fill="#00ff00"/>
<rect x="795" y="739" width="5" height="9" fill="#00ff00"/>
<rect x="803" y="739" width="5" height="12" fill="#00ff00"/>
<rect x="811" y="739" width="5" height="15" fill="#00ff00"/>
<rect x="819" y="739" width="5" height="16" fill="#00ff00"/>
<rect x="827" y="739" width="5" height="20" fill="#00ff00"/>
<rect x="835" y="739" width="5" height="23" fill="#00ff00"/>
<rect x="843" y="739" width="5" height="23" fill="#00ff00"/>
<rect x="851" y="739" width="5" height="23" fill="#00ff00"/>
<rect x="859" y="739" width="5" height="27" fill="#00ff00"/>
<rect x="867" y="739" width="5" height="29" fill="#00ff00"/>
<rect x="875" y="739" width="5" height="30" fill="#00ff00"/>
<rect x="883" y="739" width="5" height="35" fill="#00ff00"/>
<rect x="891" y="739" width="5" height="36" fill="#00ff00"/>
<rect x="899" y="739" width="5" height="37" fill="#00ff00"/>
<rect x="907" y="739" width="5" height="36" fill="#00ff00"/>
<rect x="915" y="739" width="5" height="37" fill="#00ff00"/>
<rect x="923" y="739" width="5" height="32" fill="#00ff00"/>
<rect x="931" y="739" width="5" height="21" fill="#00ff00"/>
<rect x="939" y="739" width="5" height="15" fill="#00ff00"/>
<rect x="947" y="739" width="5" height="10" fill="#00ff00"/>
<rect x="955" y="739" width="5" height="6" fill="#00ff00"/>
<rect x="963" y="739" width="5" height="3" fill="#00ff00"/>
<rect x="971" y="736" width="5" height="3" fill="#00ff00"/>
<rect x="979" y="732" width="5" height="7" fill="#00ff00"/>
<rect x="987" y="727" width="5" height="12" fill="#00ff00"/>
<rect x="995" y="726" width="5" height="13" fill="#00ff00"/>
<rect x="1003" y="725" width="5" height="14" fill="#00ff00"/>
<rect x="1011" y="722" width="5" height="17" fill="#00ff00"/>
<rect x="1019" y="719" width="5" height="20" fill="#00ff00"/>
<rect x="1027" y="715" width="5" height="24" fill="#00ff00"/>
<rect x="1035" y="713" width="5" height="26" fill="#00ff00"/>
<rect x="1043" y="711" width="5" height="28" fill="#00ff00"/>
<rect x="1051" y="709" width="5" height="30" fill="#00ff00"/>
<rect x="1059" y="705" width="5" height="34" fill="#00ff00"/>
<rect x="1067" y="696" width="5" height="43" fill="#00ff00"/>
<rect x="1075" y="687" width="5" height="52" fill="#00ff00"/>
<rect x="1083" y="679" width="5" height="60" fill="#00ff00"/>
<rect x="1091" y="674" width="5" height="65" fill="#00ff00"/>
<rect x="1099" y="671" width="5" height="68" fill="#00ff00"/>
<rect x="1107" y="671" width="5" height="68" fill="#00ff00"/>
<rect x="1115" y="670" width="5" height="69" fill="#00ff00"/>
<rect x="1123" y="670" width="5" height="69" fill="#00ff00"/>
<rect x="1131" y="671" width="5" height="68" fill="#00ff00"/>
<rect x="1139" y="672" width="5" height="67" fill="#00ff00"/>
<line x1="6" y1="739.5" x2="1444" y2="739.5" stroke="#778899" stroke-width="1" stroke-dasharray="3 3"/>
</g>
<polyline points="5.2,696.0 13.2,699.6 21.2,705.5 29.2,710.2 37.2,715.2 45.2,720.3 53.2,725.1 61.2,728.2 69.2,729.9 77.2,730.7 85.2,729.8 93.2,727.7 101.2,724.8 109.2,720.0 117.2,713.9 125.2,706.9 133.2,699.9 141.2,693.1 149.2,686.6 157.2,680.3 165.2,674.9 173.2,670.7 181.2,668.1 189.2,667.2 197.2,667.5 205.2,668.4 213.2,669.9 221.2,671.8 229.2,674.2 237.2,676.8 245.2,678.9 253.2,681.6 261.2,684.3 269.2,687.2 277.2,690.8 285.2,694.6 293.2,698.6 301.2,702.5 309.2,705.5 317.2,708.3 325.2,710.5 333.2,712.2 341.2,713.3 349.2,713.4 357.2,712.9 365.2,711.7 373.2,710.3 381.2,709.1 389.2,707.9 397.2,706.4 405.2,704.2 413.2,701.3 421.2,698.2 429.2,694.8 437.2,691.8 445.2,688.4 453.2,684.8 461.2,681.1 469.2,677.3 477.2,673.9 485.2,671.1 493.2,668.6 501.2,667.0 509.2,665.6 517.2,663.9 525.2,662.0 533.2,660.5 541.2,657.9 549.2,654.2 557.2,649.8 565.2,645.1 573.2,639.8 581.2,633.9 589.2,629.0 597.2,625.3 605.2,622.1 613.2,621.1 621.2,622.0 629.2,624.7 637.2,628.6 645.2,633.5 653.2,639.3 661.2,645.8 669.2,652.3 677.2,658.8 685.2,665.7 693.2,672.5 701.2,679.0 709.2,685.1 717.2,691.0 725.2,696.7 733.2,702.6 741.2,708.7 749.2,714.7 757.2,720.1 765.2,725.7 773.2,731.4 781.2,736.4 789.2,740.6 797.2,744.2 805.2,747.0 813.2,749.4 821.2,751.3 829.2,753.1 837.2,754.5 845.2,755.4 853.2,756.4 861.2,758.1 869.2,760.3 877.2,762.3 885.2,764.5 893.2,766.7 901.2,768.6 909.2,770.0 917.2,771.4 925.2,772.3 933.2,771.7 941.2,770.1 949.2,767.9 957.2,764.7 965.2,761.1 973.2,756.7 981.2,752.0 989.2,746.6 997.2,741.6 1005.2,737.8 1013.2,734.2 1021.2,730.9 1029.2,727.6 1037.2,724.4 1045.2,721.6 1053.2,719.1 1061.2,716.6 1069.2,713.3 1077.2,709.0 1085.2,704.3 1093.2,699.3 1101.2,694.4 1109.2,689.7 1117.2,685.2 1125.2,680.9 1133.2,677.1 1141.2,674.4" fill="none" stroke="#ff0000" stroke-width="2.9" stroke-linejoin="round" shape-rendering="crispEdges"/>
<g shape-rendering="crispEdges">
</g>
<polygon points="1146.5,5 1162.5,5 1154.5,13" fill="#778899"/>
<g shape-rendering="crispEdges">
<rect x="4" y="4" width="1441" height="1" fill="#000"/>
<rect x="4" y="601" width="1441" height="1" fill="#000"/>
<rect x="4" y="4" width="1" height="598" fill="#000"/>
<rect x="1444" y="4" width="1" height="598" fill="#000"/>
<rect x="4" y="603" width="1441" height="1" fill="#000"/>
<rect x="4" y="784" width="1441" height="1" fill="#000"/>
<rect x="4" y="603" width="1" height="182" fill="#000"/>
<rect x="1444" y="603" width="1" height="182" fill="#000"/>
<rect x="1445" y="111" width="2" height="1" fill="#000"/>
<rect x="1445" y="176" width="2" height="1" fill="#000"/>
<rect x="1445" y="241" width="2" height="1" fill="#000"/>
<rect x="1445" y="306" width="2" height="1" fill="#000"/>
<rect x="1445" y="371" width="2" height="1" fill="#000"/>
<rect x="1445" y="436" width="2" height="1" fill="#000"/>
<rect x="1445" y="501" width="2" height="1" fill="#000"/>
<rect x="1445" y="566" width="2" height="1" fill="#000"/>
<rect x="1445" y="46" width="2" height="1" fill="#000"/>
<rect x="1445" y="739" width="2" height="1" fill="#000"/>
<rect x="1445" y="605" width="1" height="1" fill="#000"/>
<rect x="1445" y="783" width="1" height="1" fill="#000"/>
<rect x="5" y="785" width="1" height="3" fill="#000"/>
<rect x="133" y="785" width="1" height="3" fill="#000"/>
<rect x="261" y="785" width="1" height="3" fill="#000"/>
<rect x="389" y="785" width="1" height="3" fill="#000"/>
<rect x="517" y="785" width="1" height="3" fill="#000"/>
<rect x="645" y="785" width="1" height="3" fill="#000"/>
<rect x="773" y="785" width="1" height="3" fill="#000"/>
<rect x="901" y="785" width="1" height="3" fill="#000"/>
<rect x="1029" y="785" width="1" height="3" fill="#000"/>
<rect x="5" y="87" width="1441" height="4" fill="#0000cd"/>
<rect x="5" y="155" width="1441" height="4" fill="#0000cd"/>
<rect x="1446" y="38" width="70" height="17" fill="#000"/>
<rect x="1446" y="83" width="70" height="17" fill="#0000cd"/>
<rect x="1446" y="151" width="70" height="17" fill="#0000cd"/>
</g>
<polygon points="8,12 19,12 13.5,18" fill="#000"/>
<text x="25.8" y="21" textLength="16.4" lengthAdjust="spacingAndGlyphs">SP</text>
<text x="42.0" y="21" textLength="50.3" lengthAdjust="spacingAndGlyphs">500-,H4</text>
<text x="99.6" y="21">4487.470</text>
<text x="163.6" y="21">4490.970</text>
<text x="227.6" y="21">4486.730</text>
<text x="291.6" y="21">4489.970</text>
<text x="9.4" y="621" textLength="37.2" lengthAdjust="spacingAndGlyphs">MACD</text>
<text x="46.0" y="621" textLength="57.8" lengthAdjust="spacingAndGlyphs">(12,26,9)</text>
<text x="108" y="621">20.7656</text>
<text x="163.6" y="621">20.2189</text>
<text x="1451" y="52" class="w">4489.970</text>
<text x="1451" y="97" class="w">4465.000</text>
<text x="1451" y="165" class="w">4425.000</text>
<text x="1451" y="117">4452.170</text>
<text x="1451" y="182">4413.890</text>
<text x="1451" y="247">4376.190</text>
<text x="1451" y="312">4337.910</text>
<text x="1451" y="377">4299.630</text>
<text x="1451" y="442">4261.930</text>
<text x="1451" y="507">4223.650</text>
<text x="1451" y="572">4185.950</text>
<text x="1448.1" y="619">41.654</text>
<text x="1448.1" y="745">0.00</text>
<text x="1448.1" y="780">-13.6646</text>
<text x="4" y="802" textLength="80.7" lengthAdjust="spacingAndGlyphs">31 May 2023</text>
<text x="132" y="802" textLength="74.5" lengthAdjust="spacingAndGlyphs">5 Jun 00:00</text>
<text x="260" y="802" textLength="74.5" lengthAdjust="spacingAndGlyphs">7 Jun 16:00</text>
<text x="388" y="802" textLength="82.3" lengthAdjust="spacingAndGlyphs">12 Jun 08:00</text>
<text x="516" y="802" textLength="82.3" lengthAdjust="spacingAndGlyphs">15 Jun 00:00</text>
<text x="644" y="802" textLength="82.3" lengthAdjust="spacingAndGlyphs">19 Jun 16:00</text>
<text x="772" y="802" textLength="82.3" lengthAdjust="spacingAndGlyphs">22 Jun 08:00</text>
<text x="900" y="802" textLength="82.3" lengthAdjust="spacingAndGlyphs">27 Jun 00:00</text>
<text x="1028" y="802" textLength="82.3" lengthAdjust="spacingAndGlyphs">29 Jun 16:00</text>
<line x1="1157.35" y1="88.7" x2="1181.4" y2="27.5" stroke="#ff0000" stroke-width="6.4" stroke-linecap="round"/>
<polygon points="1169.8,24.85 1194.3,-5.6 1191.8,34" fill="#ff0000"/>
</svg></body></html>
